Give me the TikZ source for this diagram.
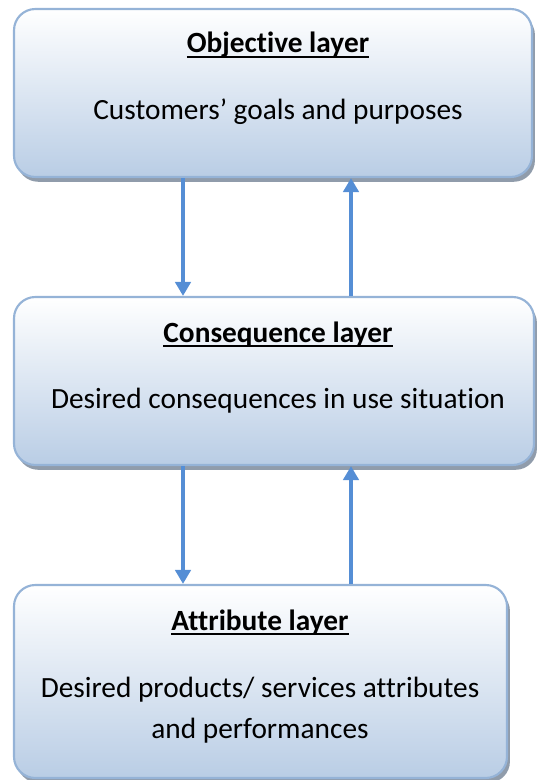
\documentclass[tikz,border=0pt]{standalone}
\usepackage{fontspec}
\setmainfont{Carlito}[Ligatures=NoCommon]
\usetikzlibrary{shadows,arrows.meta}
\definecolor{boxtop}{HTML}{FFFFFF}
\definecolor{boxbot}{HTML}{B9CDE5}
\definecolor{boxline}{HTML}{95B3D7}
\definecolor{arrowblue}{HTML}{558ED5}
\definecolor{shadowgray}{HTML}{909CAB}
% bold heading with a thick rule just under the baseline
\newcommand\layertitle[1]{\setbox0\hbox{\bfseries #1}\leavevmode\rlap{\rule[-3.4pt]{\wd0}{1.5pt}}\box0}
\tikzset{
  layerbox/.style={draw=boxline, line width=1.6pt, rounded corners=16pt,
    top color=boxtop, bottom color=boxbot,
    drop shadow={shadow xshift=2.2pt, shadow yshift=-3.6pt, fill=shadowgray, opacity=1}},
  layertext/.style={anchor=base, inner sep=0pt, font=\fontsize{22}{26}\selectfont},
  flow/.style={draw=arrowblue, line width=3pt, -{Triangle[width=11.5pt,length=10.5pt]}}
}
\begin{document}
\begin{tikzpicture}[x=0.75pt,y=-0.75pt]
\useasboundingbox (0,0) rectangle (536,780);
% the three layers
\node[layerbox, minimum width=388.5pt, minimum height=126pt] (obj) at (273,93) {};
\node[layerbox, minimum width=390pt, minimum height=126pt] (con) at (274,381) {};
\node[layerbox, minimum width=369.75pt, minimum height=144.75pt] (att) at (260.5,681.5) {};
% texts
\node[layertext] (objtitle) at (278,53) {\layertitle{Objective layer}};
\node[layertext] (objbody) at (278,120) {Customers’ goals and purposes};
\node[layertext] (contitle) at (278,342) {\layertitle{Consequence layer}};
\node[layertext] (conbody) at (278,408) {Desired consequences in use situation};
\node[layertext] (atttitle) at (260,630) {\layertitle{Attribute layer}};
\node[layertext] (attbody1) at (260,697) {Desired products/ services attributes};
\node[layertext] (attbody2) at (260,738) {and performances};
% arrow columns
\coordinate (down) at (183,0);
\coordinate (up) at (351,0);
\draw[flow] (obj.south -| down) -- (con.north -| down);
\draw[flow] (con.north -| up) -- (obj.south -| up);
\draw[flow] (con.south -| down) -- (att.north -| down);
\draw[flow] (att.north -| up) -- (con.south -| up);
\end{tikzpicture}
\end{document}
